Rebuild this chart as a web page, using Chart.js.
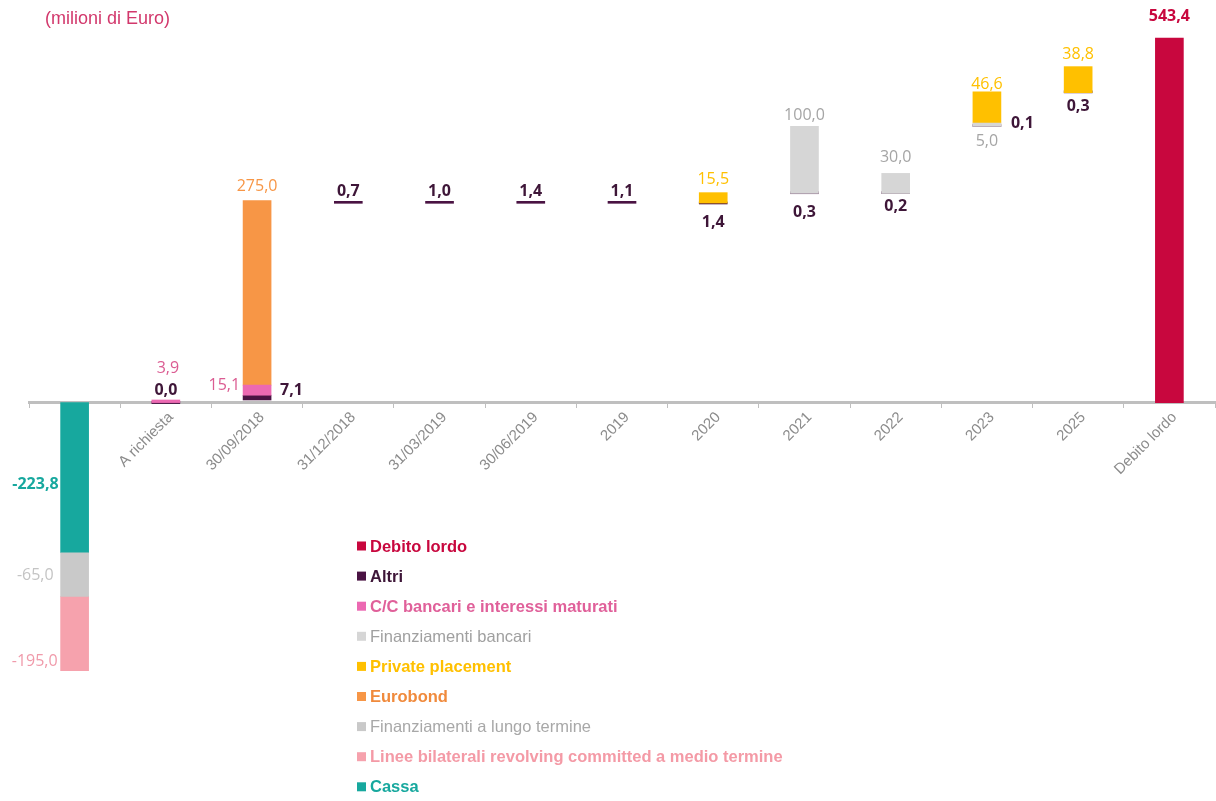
<!DOCTYPE html>
<html>
<head>
<meta charset="utf-8">
<title>Debito lordo</title>
<script src="https://cdn.jsdelivr.net/npm/chart.js@4.4.1/dist/chart.umd.min.js"></script>
<style>
  html, body { margin: 0; padding: 0; background: #fff; }
  #wrap { position: relative; width: 1216px; height: 801px; }
</style>
</head>
<body>
<div id="wrap"><canvas id="debtChart" width="1216" height="801"></canvas></div>
<script>
var categories = ['', 'A richiesta', '30/09/2018', '31/12/2018', '31/03/2019', '30/06/2019',
                  '2019', '2020', '2021', '2022', '2023', '2025', 'Debito lordo'];

// values printed on the chart (milioni di Euro)
var debitoLordo    = [null, null, null, null, null, null, null, null, null, null, null, null, 543.4];
var altri          = [null, 0.0, 7.1, 0.7, 1.0, 1.4, 1.1, 1.4, 0.3, 0.2, 0.1, 0.3, null];
var ccBancari      = [null, 3.9, 15.1, null, null, null, null, null, null, null, null, null, null];
var finBancari     = [null, null, null, null, null, null, null, null, 100.0, 30.0, 5.0, null, null];
var privPlacement  = [null, null, null, null, null, null, null, 15.5, null, null, 46.6, 38.8, null];
var eurobond       = [null, null, 275.0, null, null, null, null, null, null, null, null, null, null];
var finLungo       = [-65.0, null, null, null, null, null, null, null, null, null, null, null, null];
var lineeRevolving = [-195.0, null, null, null, null, null, null, null, null, null, null, null, null];
var cassa          = [-223.8, null, null, null, null, null, null, null, null, null, null, null, null];

// where each floating piece starts
var debitoLordoBase    = [null, null, null, null, null, null, null, null, null, null, null, null, 0];
var altriBase          = [null, 0, 3.9, 297, 297, 297, 297, 296, 311.3, 311.4, 411.5, 461.6, null];
var ccBancariBase      = [null, 0, 11.0, null, null, null, null, null, null, null, null, null, null];
var finBancariBase     = [null, null, null, null, null, null, null, null, 311.6, 311.6, 411.6, null, null];
var privPlacementBase  = [null, null, null, null, null, null, null, 297.4, null, null, 416.6, 461.9, null];
var eurobondBase       = [null, null, 26.1, null, null, null, null, null, null, null, null, null, null];
var finLungoBase       = [-223.8, null, null, null, null, null, null, null, null, null, null, null, null];
var lineeRevolvingBase = [-288.8, null, null, null, null, null, null, null, null, null, null, null, null];
var cassaBase          = [0, null, null, null, null, null, null, null, null, null, null, null, null];

function floating(values, bases) {
  return values.map(function (v, i) { return v === null ? null : [bases[i], bases[i] + v]; });
}

function itNum(v) { return v.toFixed(1).replace('.', ','); }

// colours: bar, value label, legend text; bold flags for label / legend
var series = [
  { label: 'Debito lordo', values: debitoLordo, bases: debitoLordoBase, bar: '#C8073E', text: '#C8073E', legendText: '#C8073E', boldValue: true, boldLegend: true },
  { label: 'Altri', values: altri, bases: altriBase, bar: '#4A1343', text: '#3E1638', legendText: '#3E1638', boldValue: true, boldLegend: true },
  { label: 'C/C bancari e interessi maturati', values: ccBancari, bases: ccBancariBase, bar: '#EC69B2', text: '#DB5C92', legendText: '#E0609A', boldValue: false, boldLegend: true },
  { label: 'Finanziamenti bancari', values: finBancari, bases: finBancariBase, bar: '#D6D6D6', text: '#A5A5A5', legendText: '#A0A0A0', boldValue: false, boldLegend: false },
  { label: 'Private placement', values: privPlacement, bases: privPlacementBase, bar: '#FFC000', text: '#FFC000', legendText: '#FFC000', boldValue: false, boldLegend: true },
  { label: 'Eurobond', values: eurobond, bases: eurobondBase, bar: '#F79646', text: '#F79646', legendText: '#F08A3C', boldValue: false, boldLegend: true },
  { label: 'Finanziamenti a lungo termine', values: finLungo, bases: finLungoBase, bar: '#C9C9C9', text: '#C4C4C4', legendText: '#A8A8A8', boldValue: false, boldLegend: false },
  { label: 'Linee bilaterali revolving committed a medio termine', values: lineeRevolving, bases: lineeRevolvingBase, bar: '#F6A2AD', text: '#F09AAA', legendText: '#F49AA6', boldValue: false, boldLegend: true },
  { label: 'Cassa', values: cassa, bases: cassaBase, bar: '#17A89E', text: '#17A89E', legendText: '#17A89E', boldValue: true, boldLegend: true }
];

// where each value label sits: [anchor, dx, dy]
var labelSpots = {
  'Debito lordo': { 12: ['top', 0, -22] },
  'Altri': { 1: ['top', 0, -11], 2: ['right', 9, -7], 3: ['top', 0, -10], 4: ['top', 0, -10],
             5: ['top', 0, -10], 6: ['top', 0, -10], 7: ['bottom', 0, 18], 8: ['bottom', 0, 19],
             9: ['bottom', 0, 13], 10: ['right', 10, -2], 11: ['bottom', 0, 14] },
  'C/C bancari e interessi maturati': { 1: ['top', 2, -32], 2: ['left', -3, -5] },
  'Finanziamenti bancari': { 8: ['top', 0, -11], 9: ['top', 0, -16], 10: ['bottom', 0, 15] },
  'Private placement': { 7: ['top', 0, -13], 10: ['top', 0, -7], 11: ['top', 0, -12] },
  'Eurobond': { 2: ['top', 0, -14] },
  'Finanziamenti a lungo termine': { 0: ['left', -7, 1] },
  'Linee bilaterali revolving committed a medio termine': { 0: ['left', -3, 0] },
  'Cassa': { 0: ['left', -2, 7] }
};

var valueLabels = {
  id: 'valueLabels',
  afterDraw: function (chart) {
    var ctx = chart.ctx;
    ctx.save();
    ctx.textBaseline = 'middle';
    chart.data.datasets.forEach(function (ds, di) {
      var s = series[di];
      var spots = labelSpots[s.label] || {};
      var meta = chart.getDatasetMeta(di);
      s.values.forEach(function (v, i) {
        if (v === null || !spots[i]) return;
        var el = meta.data[i];
        var spot = spots[i];
        var top = Math.min(el.y, el.base), bottom = Math.max(el.y, el.base);
        var x = el.x, y = (top + bottom) / 2, align = 'center';
        if (spot[0] === 'top') y = top;
        if (spot[0] === 'bottom') y = bottom;
        if (spot[0] === 'left') { x = el.x - el.width / 2; align = 'right'; }
        if (spot[0] === 'right') { x = el.x + el.width / 2; align = 'left'; }
        ctx.font = (s.boldValue ? 'bold ' : '') + '16px "Open Sans"';
        ctx.fillStyle = s.text;
        ctx.textAlign = align;
        ctx.fillText(itNum(v), x + spot[1], y + spot[2]);
      });
    });

    // title
    ctx.font = '18px "Liberation Sans"';
    ctx.fillStyle = '#D2386C';
    ctx.textAlign = 'left';
    ctx.fillText('(milioni di Euro)', 45, 19);

    // legend
    var lx = 357, ly = 546, row = 30.1;
    series.forEach(function (s, i) {
      var y = ly + i * row;
      ctx.fillStyle = s.bar;
      ctx.fillRect(lx, y - 4.5, 9, 9);
      ctx.font = (s.boldLegend ? 'bold ' : '') + '16.5px "Liberation Sans"';
      ctx.fillStyle = s.legendText;
      ctx.fillText(s.label, lx + 13, y + 1);
    });
    ctx.restore();
  }
};

new Chart(document.getElementById('debtChart').getContext('2d'), {
  type: 'bar',
  data: {
    labels: categories,
    datasets: series.map(function (s) {
      return {
        label: s.label,
        data: floating(s.values, s.bases),
        backgroundColor: s.bar,
        barThickness: 28,
        minBarLength: s.label === 'Altri' ? 2 : 0,
        order: s.label === 'Altri' ? 1 : 0
      };
    })
  },
  options: {
    responsive: false,
    animation: false,
    layout: { padding: { left: 29, right: 1, top: 0, bottom: 130 } },
    plugins: {
      legend: { display: false },
      title: { display: false },
      tooltip: { enabled: false }
    },
    scales: {
      x: {
        stacked: true,
        position: { y: 0 },
        z: 1,
        grid: { drawOnChartArea: false, drawTicks: true, tickLength: 4, offset: true, color: '#BFBFBF' },
        border: { display: true, color: '#BFBFBF', width: 3 },
        ticks: {
          color: '#8C8C8C',
          font: { family: 'Liberation Sans', size: 15 },
          minRotation: 45, maxRotation: 45,
          autoSkip: false, padding: 2, labelOffset: 5
        },
        afterFit: function (scale) { scale.height = 0; }
      },
      y: { display: false, stacked: false, min: -400, max: 600 }
    }
  },
  plugins: [valueLabels]
});
</script>
</body>
</html>
